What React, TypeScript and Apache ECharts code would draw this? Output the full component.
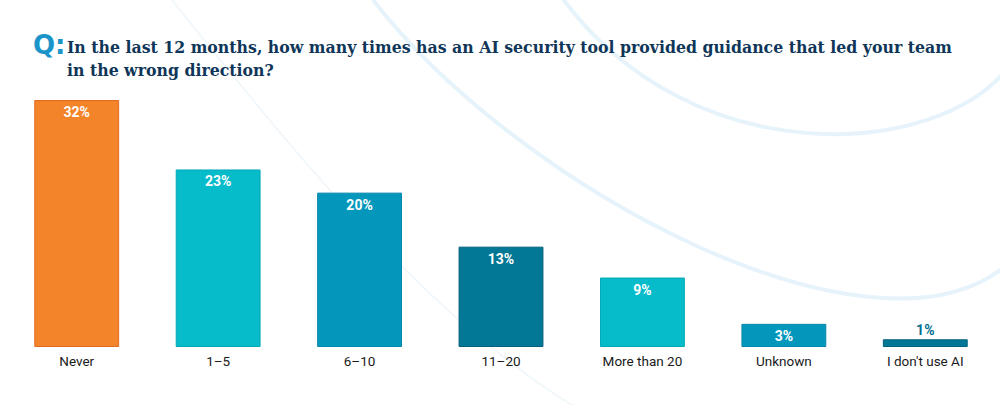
import React, { useEffect, useRef } from "react";
import * as echarts from "echarts";

const categories = ["Never", "1–5", "6–10", "11–20", "More than 20", "Unknown", "I don't use AI"];
const values = [32, 23, 20, 13, 9, 3, 1];
const barColors = ["#F4842A", "#06BBCA", "#0497BC", "#037796", "#06BBCA", "#0497BC", "#037796"];
const borderColors = ["#E2691E", "#05A9B8", "#0586AC", "#025F7D", "#05A9B8", "#0586AC", "#025F7D"];
const titleLine1 = "In the last 12 months, how many times has an AI security tool provided guidance that led your team";
const titleLine2 = "in the wrong direction?";

export default function App() {
  const ref = useRef<HTMLDivElement>(null);
  useEffect(() => {
    document.body.style.margin = "0";
    const chart = echarts.init(ref.current!, null, { renderer: "svg" });
    const deco = "#E6F3FB";
    const titleFont = "bold 17.5px 'DejaVu Serif Condensed', 'Liberation Serif', serif";
    chart.setOption({
      animation: false,
      backgroundColor: "#ffffff",
      grid: { left: 6, right: 4, top: 100, bottom: 58, containLabel: false },
      xAxis: {
        type: "category",
        data: categories,
        axisLine: { show: false },
        axisTick: { show: false },
        axisLabel: { color: "#1a1a1a", fontSize: 13.5, fontFamily: "Roboto", margin: 7 },
      },
      yAxis: { type: "value", min: 0, max: 32, show: false, splitLine: { show: false } },
      graphic: [
        { type: "bezierCurve", silent: true, z: -10, shape: { x1: 560, y1: -5, cpx1: 690, cpy1: 175, cpx2: 940, cpy2: 160, x2: 1010, y2: 65 }, style: { stroke: deco, lineWidth: 4, fill: null } },
        { type: "bezierCurve", silent: true, z: -10, shape: { x1: 373, y1: 0, cpx1: 520, cpy1: 190, cpx2: 880, cpy2: 380, x2: 1010, y2: 262 }, style: { stroke: deco, lineWidth: 4, fill: null } },
        { type: "bezierCurve", silent: true, z: -10, shape: { x1: 172, y1: 0, cpx1: 300, cpy1: 160, cpx2: 430, cpy2: 320, x2: 580, y2: 410 }, style: { stroke: "#EEF6FB", lineWidth: 1.5, fill: null } },
        { type: "text", left: 33, top: 32, style: { text: "Q:", fill: "#1B95C9", font: "bold 26px 'DejaVu Sans'" } },
        { type: "text", left: 67, top: 38, style: { text: titleLine1, fill: "#0F3658", font: titleFont } },
        { type: "text", left: 67, top: 61, style: { text: titleLine2, fill: "#0F3658", font: titleFont } },
      ],
      series: [
        {
          type: "bar",
          barWidth: "60%",
          data: values.map((v, i) => ({
            value: v,
            itemStyle: { color: barColors[i], borderColor: borderColors[i], borderWidth: 1 },
            label: i === values.length - 1
              ? { position: "top", color: "#046F8E", distance: 2 }
              : { position: "insideTop", color: "#ffffff", distance: 5 },
          })),
          label: {
            show: true,
            formatter: "{c}%",
            fontSize: 14,
            fontWeight: "bold",
            fontFamily: "Roboto",
          },
        },
      ],
    });
    return () => chart.dispose();
  }, []);
  return <div ref={ref} style={{ width: 1000, height: 405 }} />;
}
